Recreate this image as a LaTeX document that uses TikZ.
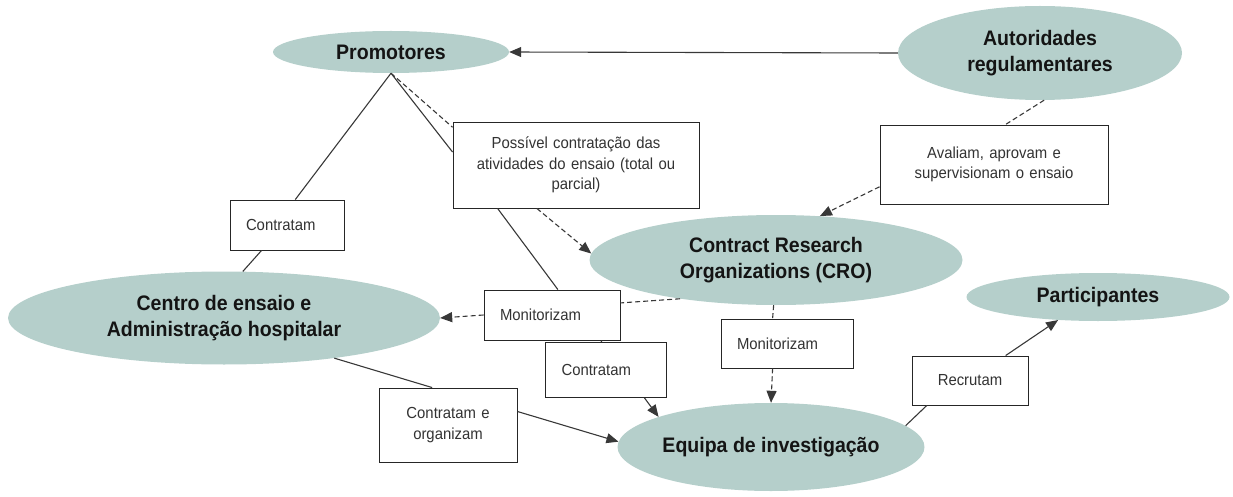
\documentclass[tikz,border=0pt]{standalone}
\usepackage{fontspec}
\usepackage{xcolor}
\usepackage{tikz}
\usetikzlibrary{arrows.meta,shapes.geometric}
\newfontfamily\diagfont[FakeStretch=0.93]{Liberation Sans}
\definecolor{actorfill}{HTML}{B5CFCB}
\definecolor{linkgray}{HTML}{383838}

\begin{document}
\begin{tikzpicture}[x=1pt,y=-1pt,
  actor/.style={ellipse,fill=actorfill,inner sep=0pt,align=center,text=black!92,
    font=\diagfont\bfseries\fontsize{21}{25.5}\selectfont},
  note/.style={draw=black!85,line width=0.9pt,fill=white,inner xsep=16pt,inner ysep=0pt,
    font=\diagfont\fontsize{16}{20.5}\selectfont,text=black!80},
  link/.style={draw=linkgray,line width=1.1pt},
  dlink/.style={link,dash pattern=on 5pt off 3pt},
  arrowed/.style={-{Triangle[length=12pt,width=10pt]}}]
  \useasboundingbox (0,0) rectangle (1233,497);

  % actors
  \node[actor,minimum width=236pt,minimum height=42pt] (prom) at (391,52) {Promotores};
  \node[actor,minimum width=284pt,minimum height=94pt] (auth) at (1040,53) {Autoridades\\regulamentares};
  \node[actor,minimum width=373pt,minimum height=90pt] (cro) at (776,260) {Contract Research\\Organizations (CRO)};
  \node[actor,minimum width=432pt,minimum height=93pt] (centro) at (224,318) {Centro de ensaio e\\Administração hospitalar};
  \node[actor,minimum width=296pt,minimum height=88pt] (equipa) at (771,447) {Equipa de investigação};
  \node[actor,minimum width=263pt,minimum height=48pt] (partic) at (1098,297) {Participantes};

  % labels on the links
  \node[note,text width=214pt,minimum height=86pt,align=center] (poss) at (576,165) {Possível contratação das\\atividades do ensaio (total ou\\parcial)};
  \node[note,text width=196pt,minimum height=79pt,align=center] (aval) at (994,164.5) {Avaliam, aprovam e\\supervisionam o ensaio};
  \node[note,text width=82pt,minimum height=50pt,align=left] (contr1) at (287,225) {Contratam};
  \node[note,text width=104pt,minimum height=50pt,align=left] (moni1) at (552,315) {Monitorizam};
  \node[note,text width=89pt,minimum height=55pt,align=left] (contr2) at (606,370) {Contratam};
  \node[note,text width=106pt,minimum height=74pt,align=center] (controrg) at (448,425) {Contratam e\\organizam};
  \node[note,text width=100pt,minimum height=49pt,align=left] (moni2) at (787,343.5) {Monitorizam};
  \node[note,text width=84pt,minimum height=49pt,align=center] (recr) at (970,380.5) {Recrutam};

  % links
  \draw[link,arrowed] (auth.west) -- (prom.east);
  \draw[link] (prom.south) -- (contr1.72) (contr1.225) -- (centro.68);
  \draw[link] (prom.south) -- (poss.174) (poss.209) -- (moni1.77) (moni1.333) -- (contr2.100);
  \draw[link,arrowed] (contr2.324) -- (equipa.165);
  \draw[dlink] (prom.south) -- (poss.163);
  \draw[dlink,arrowed] (poss.228) -- (cro.178);
  \draw[dlink] (auth.275) -- (aval.74);
  \draw[dlink,arrowed] (aval.191) -- (cro.45);
  \draw[dlink] (cro.202) -- (moni1.10);
  \draw[dlink,arrowed] (moni1.west) -- (centro.east);
  \draw[dlink] (cro.267) -- (moni2.120);
  \draw[dlink,arrowed] (moni2.240) -- (equipa.north);
  \draw[link] (centro.340) -- (controrg.113);
  \draw[link,arrowed] (controrg.11) -- (equipa.178);
  \draw[link] (equipa.9) -- (recr.210);
  \draw[link,arrowed] (recr.35) -- (partic.210);
\end{tikzpicture}
\end{document}
